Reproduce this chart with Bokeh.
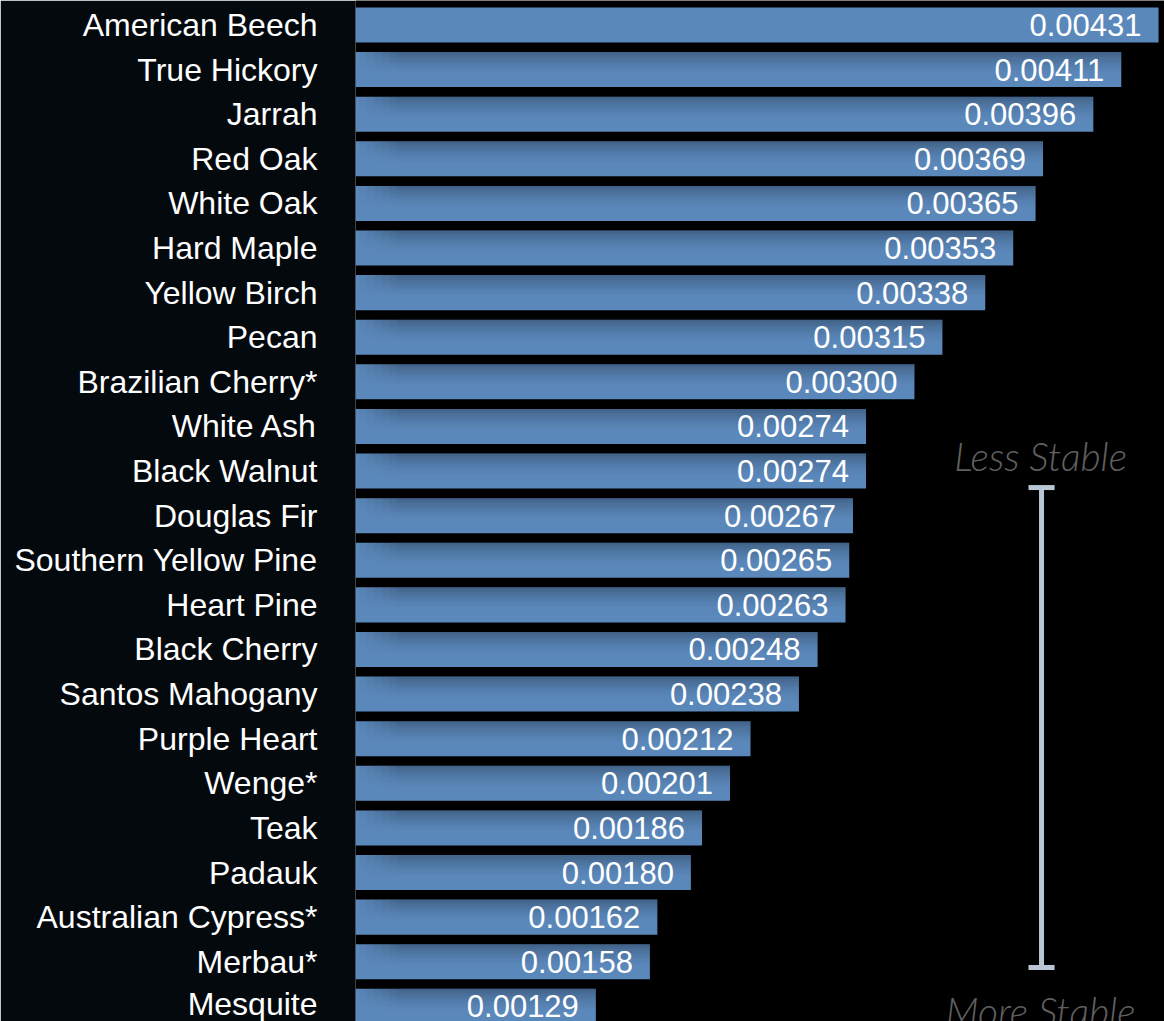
from bokeh.plotting import figure
from bokeh.models import Range1d, FixedTicker, ColumnDataSource, Label
from bokeh.core.properties import value
from bokeh.embed import file_html
from bokeh.resources import INLINE

species = ["American Beech", "True Hickory", "Jarrah", "Red Oak", "White Oak", "Hard Maple",
           "Yellow Birch", "Pecan", "Brazilian Cherry*", "White Ash", "Black Walnut", "Douglas Fir",
           "Southern Yellow Pine", "Heart Pine", "Black Cherry", "Santos Mahogany", "Purple Heart",
           "Wenge*", "Teak", "Padauk", "Australian Cypress*", "Merbau*", "Mesquite"]
coefficients = [0.00431, 0.00411, 0.00396, 0.00369, 0.00365, 0.00353, 0.00338, 0.00315, 0.00300,
                0.00274, 0.00274, 0.00267, 0.00265, 0.00263, 0.00248, 0.00238, 0.00212, 0.00201,
                0.00186, 0.00180, 0.00162, 0.00158, 0.00129]

FONT = "Liberation Sans"
BAR_H = 0.785
BAR_COLOR = "#5b88bb"

ys = list(range(len(species)))
src = ColumnDataSource(dict(y=ys, v=coefficients,
                            lbl=[f"{c:.5f}" for c in coefficients]))

p = figure(width=1164, height=1021, output_backend="svg", toolbar_location=None,
           x_range=Range1d(0, 0.004342), y_range=Range1d(22.34, -0.549),
           min_border_left=355, min_border_right=0, min_border_top=0, min_border_bottom=0)
p.background_fill_color = "#000000"
p.border_fill_color = "#04090d"
p.outline_line_color = None
p.grid.visible = False
p.xaxis.visible = False

yax = p.yaxis[0]
yax.ticker = FixedTicker(ticks=ys)
yax.major_label_overrides = {i: s for i, s in enumerate(species)}
yax.axis_line_color = None
yax.major_tick_line_color = None
yax.minor_tick_line_color = None
yax.major_label_standoff = 32
yax.major_label_text_color = "#ffffff"
yax.major_label_text_font = FONT
yax.major_label_text_font_size = "32px"

p.hbar(y="y", right="v", left=0, height=BAR_H, source=src, fill_color=BAR_COLOR, line_color=None)

# soft shadow at the top of each bar (cast by the bar above)
n_strips = 9
strip = BAR_H * 0.07
fade_w = 0.00004
n_fade = 5
for k in range(n_strips):
    alpha = 0.26 * (1 - k / n_strips) ** 1.5
    sy = [y - BAR_H / 2 + strip * (k + 0.5) for y in ys[1:]]
    left_main = fade_w * (n_fade + 0.5)
    p.hbar(y=sy, right=coefficients[1:], left=left_main, height=strip,
           fill_color="#000000", fill_alpha=alpha, line_color=None)
    for j in range(n_fade):
        p.hbar(y=sy, left=fade_w * (j + 0.5), right=fade_w * (j + 1.5), height=strip,
               fill_color="#000000", fill_alpha=alpha * (j + 1) / (n_fade + 1), line_color=None)

p.text(x="v", y="y", text="lbl", source=src, x_offset=-17, text_align="right",
       text_baseline="middle", text_color="#ffffff", text_font=value(FONT),
       text_font_size="31px")

# stability scale
bx = 0.003682
p.segment(x0=[bx], y0=[10.37], x1=[bx], y1=[21.13], line_color="#b9c6d3", line_width=5)
p.segment(x0=[0.003612, 0.003612], y0=[10.37, 21.13], x1=[0.003752, 0.003752], y1=[10.37, 21.13],
          line_color="#b9c6d3", line_width=5)

for txt, yy in [("Less Stable", 9.66), ("More Stable", 22.10)]:
    p.add_layout(Label(x=0.003677, y=yy, text=txt, text_align="center", text_baseline="middle",
                       text_color="#606060", text_font="Lato Light",
                       text_font_style="italic", text_font_size="39px"))

open("out.html", "w").write(file_html(p, INLINE))
